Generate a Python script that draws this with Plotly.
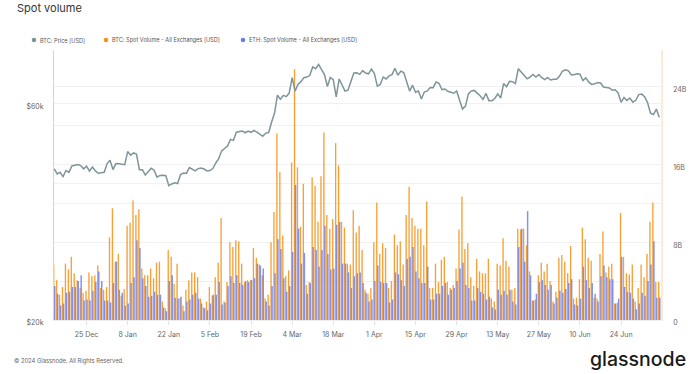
import math
import pandas as pd
import plotly.graph_objects as go

# ---------------- data ----------------
start_date = "2023-12-14"

btc_price = [
    # Dec 14 - Dec 31
    43020, 41940, 42280, 41370, 42660, 42270, 43670, 43860, 43990, 43740,
    43020, 43610, 42520, 43440, 42580, 42070, 42140, 42280,
    # Jan
    44180, 44950, 42850, 44180, 44160, 43970, 43930, 46970, 46120, 46630,
    46370, 42850, 42840, 41730, 42510, 43150, 42740, 41260, 41620, 41670,
    41550, 39500, 39850, 40080, 39930, 41800, 42120, 42030, 43300, 42940,
    42580,
    # Feb
    43080, 43190, 42990, 42580, 42660, 43080, 44320, 45290, 47130, 47750,
    48290, 49960, 49700, 51800, 51940, 52130, 51660, 52120, 51780, 52260,
    51850, 51300, 50730, 51570, 51730, 54480, 57080, 62500, 61200,
    # Mar
    62440, 62030, 63170, 68330, 63800, 66110, 66930, 68300, 68500, 69020,
    72120, 71480, 73080, 71400, 69400, 65300, 68390, 67610, 61940, 67840,
    65500, 63800, 64100, 67230, 69970, 69990, 69450, 70780, 69900, 69650,
    71330,
    # Apr
    69700, 65450, 65980, 68510, 67840, 68900, 69360, 71630, 69140, 70590,
    70060, 67200, 63820, 65740, 63420, 63810, 61280, 63510, 63840, 64990,
    64930, 66840, 66400, 64300, 64480, 63760, 63420, 63110, 63840, 60640,
    # May
    58250, 59120, 62890, 63890, 64030, 63160, 62330, 61190, 63050, 60790,
    60790, 61450, 62900, 61550, 66270, 65230, 67050, 66940, 66280, 71450,
    70130, 69120, 67930, 68520, 69390, 68500, 69400, 68300, 67600, 68360,
    67490,
    # Jun
    67710, 67750, 68800, 70570, 71080, 70760, 69340, 69300, 69650, 69500,
    67320, 68240, 66750, 66010, 66190, 66640, 66490, 65140, 64960, 64830,
    64100, 64250, 63180, 60280, 61800, 60860, 61610, 60320, 60890, 62680,
    # Jul
    62850, 62030, 60200, 57060, 56660, 58240, 55860,
]

btc_spot_volume_b = [
    5.7, 4.1, 2.6, 3.4, 5.8, 5.2, 6.5, 4.8, 4.1, 3.3,
    2.8, 3.0, 4.9, 4.5, 4.6, 5.6, 3.3, 3.1, 3.4, 8.5,
    11.5, 6.0, 6.8, 2.5, 3.2, 9.7, 10.0, 12.3, 10.8, 11.4,
    5.3, 4.6, 4.6, 5.3, 4.3, 5.9, 6.0, 1.9, 1.2, 7.2,
    6.5, 3.7, 5.8, 2.2, 1.5, 3.1, 4.1, 4.9, 4.9, 4.4,
    2.2, 1.3, 1.9, 3.4, 2.5, 4.4, 5.9, 10.5, 1.9, 3.9,
    8.0, 7.5, 8.2, 8.1, 5.8, 3.9, 4.1, 4.1, 7.4,
    6.4, 5.7, 4.6, 2.2, 2.6, 8.0, 11.1, 19.2, 15.2, 8.7,
    4.5, 5.1, 16.2, 25.8, 15.7, 9.6, 14.0, 3.6, 3.9, 14.7,
    13.8, 10.1, 14.8, 19.3, 10.8, 9.4, 10.4, 18.2, 15.9, 10.1,
    9.5, 5.8, 5.7, 11.3, 9.0, 9.7, 7.2, 3.1, 2.7, 3.3,
    8.0, 12.1, 6.8, 7.9, 7.4, 3.3, 4.0, 8.8, 7.7, 8.1,
    5.7, 10.8, 13.7, 10.5, 9.7, 9.4, 9.4, 7.7, 12.2, 3.3,
    3.3, 5.8, 3.9, 6.2, 6.5, 3.9, 3.3, 3.6, 5.3, 9.3,
    12.7, 7.3, 7.9, 4.4, 3.5, 6.3, 5.0, 4.8, 4.8, 6.3,
    2.2, 1.9, 5.8, 5.6, 8.4, 6.1, 5.5, 3.1, 3.3, 9.4,
    9.3, 9.4, 7.7, 5.0, 2.0, 2.1, 4.6, 5.9, 5.0, 5.8,
    4.0, 1.9, 2.9, 6.4, 6.7, 6.0, 4.8, 7.6, 2.2, 2.3,
    4.2, 9.5, 8.3, 6.4, 6.1, 2.3, 2.2, 6.8, 9.1, 4.9,
    5.5, 5.8, 1.7, 1.8, 11.0, 6.5, 4.8, 4.7, 5.7, 1.9,
    3.3, 5.7, 4.4, 6.8, 10.1, 12.1, 3.9, 3.9,
]

eth_spot_volume_b = [
    3.5, 2.7, 1.5, 1.7, 2.8, 2.9, 3.4, 3.4, 4.0, 4.6,
    2.0, 2.1, 2.0, 3.0, 3.9, 5.0, 4.0, 2.0, 2.0, 1.8,
    3.8, 6.0, 3.1, 2.8, 1.5, 1.7, 3.8, 4.4, 8.2, 7.4,
    4.3, 3.5, 2.4, 2.5, 2.9, 2.6, 2.6, 1.3, 0.9, 4.0,
    4.6, 2.3, 2.2, 2.4, 0.9, 1.9, 2.1, 2.6, 2.8, 2.2,
    1.7, 1.2, 1.0, 1.7, 2.6, 2.6, 3.9, 1.6, 1.8, 3.5,
    4.5, 3.8, 4.6, 3.8, 3.6, 4.0, 3.9, 4.1, 4.3,
    5.8, 5.6, 5.3, 1.9, 1.5, 3.5, 4.8, 8.3, 7.3, 4.3,
    2.9, 3.5, 7.0, 13.9, 9.4, 5.8, 6.9, 2.7, 3.8, 7.5,
    7.2, 5.5, 7.2, 9.7, 6.8, 5.2, 5.3, 9.8, 10.1, 5.8,
    5.8, 4.9, 3.3, 4.5, 4.8, 4.9, 3.8, 2.8, 1.9, 2.1,
    4.0, 5.6, 3.9, 3.8, 3.8, 1.8, 2.1, 4.9, 4.7, 4.1,
    3.5, 6.3, 6.5, 7.5, 5.0, 4.3, 3.8, 3.8, 5.5, 2.1,
    2.1, 2.7, 2.7, 3.5, 3.8, 2.6, 3.1, 3.3, 4.0, 5.3,
    5.9, 3.6, 3.3, 2.0, 2.0, 3.3, 2.9, 2.7, 2.1, 2.4,
    1.3, 1.1, 3.1, 2.6, 3.0, 2.6, 3.1, 1.9, 1.6, 7.5,
    9.4, 6.0, 11.2, 4.6, 2.0, 2.7, 3.9, 4.1, 3.6, 3.1,
    3.6, 1.7, 2.3, 3.0, 2.8, 3.2, 3.8, 4.2, 1.6, 1.5,
    2.2, 5.5, 4.1, 3.3, 3.8, 2.7, 1.9, 4.5, 5.6, 4.4,
    4.2, 4.2, 1.7, 2.2, 6.5, 3.4, 2.9, 2.8, 2.2, 1.1,
    1.7, 2.8, 2.5, 4.0, 5.7, 8.1, 2.3, 2.3,
]

price_ticks = [20000, 40000, 60000]
price_tick_text = ["$20k", "", "$60k"]
volume_ticks = [0, 4, 8, 12, 16, 20, 24]
volume_tick_text = ["0", "", "8B", "", "16B", "", "24B"]

legend_names = [
    "BTC: Price [USD]",
    "BTC: Spot Volume - All Exchanges [USD]",
    "ETH: Spot Volume - All Exchanges [USD]",
]

# ---------------- figure ----------------
dates = pd.date_range(start_date, periods=len(btc_price), freq="D")
DAY = 86400000

C_PRICE = "#7f9499"
C_BTC = "rgba(247,147,26,0.88)"
C_ETH = "rgba(98,120,234,0.80)"
FONT = "Inter, Roboto, sans-serif"

fig = go.Figure()
fig.add_trace(go.Bar(
    x=dates, y=btc_spot_volume_b, name=legend_names[1], yaxis="y",
    marker=dict(color=C_BTC, line_width=0),
    width=0.46 * DAY, offset=-0.42 * DAY, showlegend=False,
))
fig.add_trace(go.Bar(
    x=dates, y=eth_spot_volume_b, name=legend_names[2], yaxis="y",
    marker=dict(color=C_ETH, line_width=0),
    width=0.5 * DAY, offset=-0.08 * DAY, showlegend=False,
))
fig.add_trace(go.Scatter(
    x=dates, y=btc_price, name=legend_names[0], yaxis="y2",
    mode="lines", line=dict(color=C_PRICE, width=1.5), showlegend=False,
))

W, H = 696, 374
PLOT_L, PLOT_R, PLOT_T, PLOT_B = 54, 661, 50, 320
L, T, R, B = PLOT_L, PLOT_T, W - PLOT_R, H - PLOT_B
pw, ph = PLOT_R - PLOT_L, PLOT_B - PLOT_T


def px(x):
    return (x - PLOT_L) / pw


def py(y):
    return (PLOT_B - y) / ph


fig.update_layout(
    width=W, height=H,
    margin=dict(l=L, r=R, t=T, b=B, autoexpand=False),
    paper_bgcolor="white", plot_bgcolor="white",
    barmode="overlay",
    font=dict(family=FONT, size=7, color="#666"),
    xaxis=dict(
        type="date",
        range=["2023-12-13 22:00", "2024-07-07 14:00"],
        tick0="2023-12-25", dtick=14 * DAY, tickformat="%-d %b",
        showgrid=False, zeroline=False,
        showline=True, linecolor="#eeeeee", linewidth=1,
        ticks="outside", ticklen=4, tickcolor="#e2e2e2",
        tickfont=dict(size=7, color="#666"),
        ticklabelstandoff=4,
    ),
    yaxis=dict(
        side="right",
        range=[0, 27.78],
        tickvals=volume_ticks, ticktext=volume_tick_text,
        showgrid=True, gridcolor="#f1f1f1", gridwidth=1,
        zeroline=False,
        showline=True, linecolor="#fdebd8", linewidth=1.5,
        ticks="", tickfont=dict(size=7, color="#666"),
        ticklabelstandoff=9, ticklabelshift=3,
    ),
    yaxis2=dict(
        overlaying="y", side="left", type="log",
        range=[math.log10(20000), 4.8953],
        tickvals=price_ticks, ticktext=price_tick_text,
        showgrid=True, gridcolor="#f1f1f1", gridwidth=1,
        zeroline=False,
        showline=True, linecolor="#cdd6da", linewidth=1,
        ticks="", tickfont=dict(size=7, color="#666"),
        ticklabelstandoff=8, ticklabelshift=3,
    ),
)

annotations = [
    dict(text="Spot volume", x=px(15), y=py(8), xanchor="left", yanchor="middle",
         font=dict(size=11, color="#333", family=FONT)),
    dict(text="© 2024 Glassnode. All Rights Reserved.", x=px(12), y=py(360.5),
         xanchor="left", yanchor="middle", font=dict(size=5.8, color="#666", family=FONT)),
    dict(text="glassnode", x=px(688), y=py(359), xanchor="right", yanchor="middle",
         font=dict(size=19.5, color="#1a1a1a", family="Inter", weight=500)),
]
shapes = []
legend_colors = [C_PRICE, "#f7931a", "#627eea"]
legend_dot_x = [34, 106, 243]
for name, col, dx in zip(legend_names, legend_colors, legend_dot_x):
    shapes.append(dict(
        type="circle", xref="paper", yref="paper",
        xsizemode="pixel", ysizemode="pixel",
        xanchor=px(dx), yanchor=py(40),
        x0=-2.3, x1=2.3, y0=-2.3, y1=2.3,
        fillcolor=col, line_width=0,
    ))
    annotations.append(dict(
        text=name, x=px(dx + 4), y=py(40), xanchor="left", yanchor="middle",
        font=dict(size=5.6, color="#555", family=FONT),
    ))

for a in annotations:
    a.update(xref="paper", yref="paper", showarrow=False)

fig.update_layout(annotations=annotations, shapes=shapes)

# remove the browser's default 8px body margin so the figure fills the window
fig.write_html(
    "out.html",
    config={"displayModeBar": False},
    post_script="document.body.style.margin='0px';document.body.style.padding='0px';",
)
